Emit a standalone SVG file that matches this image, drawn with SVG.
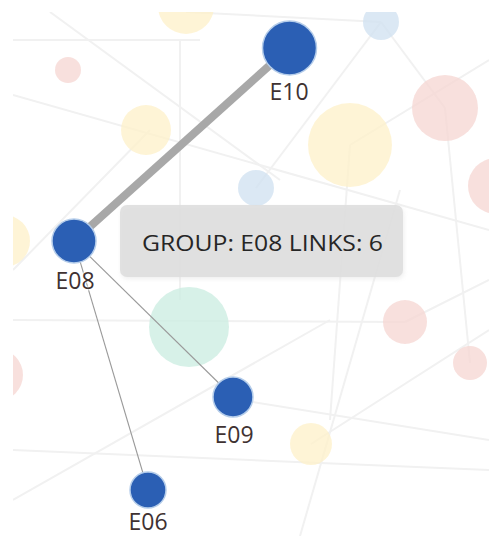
<svg xmlns="http://www.w3.org/2000/svg" width="489" height="536" viewBox="0 0 489 536">
<defs>
<clipPath id="area"><rect x="13" y="12" width="476" height="524"/></clipPath>
<filter id="sh" x="-10%" y="-20%" width="120%" height="150%"><feGaussianBlur stdDeviation="2"/></filter>
<style>
.bgl{stroke:#f1f1f1;stroke-width:2;fill:none}
.y{fill:#fdf0c8;opacity:.75}
.p{fill:#f6d6d2;opacity:.75}
.b{fill:#cfe0f0;opacity:.75}
.g{fill:#cdeee2;opacity:.8}
.node{fill:#2b5fb4;stroke:#b5cdea;stroke-width:1.5}
.lbl{font-family:"Open Sans","Noto Sans",sans-serif;font-size:23px;fill:#3f3232;text-anchor:middle;paint-order:stroke;stroke:#fff;stroke-width:3;stroke-opacity:.6}
.thin{stroke:#9a9a9a;stroke-width:1.1;fill:none}
.thick{stroke:#a8a8a8;stroke-width:8;fill:none}
</style>
</defs>
<rect width="489" height="536" fill="#fff"/>
<g id="background" clip-path="url(#area)">
<g>
<line class="bgl" x1="50" y1="12" x2="280" y2="180"/>
<line class="bgl" x1="13" y1="95" x2="489" y2="230"/>
<line class="bgl" x1="13" y1="40" x2="200" y2="40"/>
<line class="bgl" x1="186" y1="12" x2="381" y2="22"/>
<line class="bgl" x1="381" y1="22" x2="445" y2="108"/>
<line class="bgl" x1="350" y1="145" x2="489" y2="60"/>
<line class="bgl" x1="381" y1="22" x2="256" y2="188"/>
<line class="bgl" x1="180" y1="40" x2="180" y2="300"/>
<line class="bgl" x1="13" y1="320" x2="405" y2="322"/>
<line class="bgl" x1="13" y1="500" x2="330" y2="320"/>
<line class="bgl" x1="13" y1="450" x2="489" y2="470"/>
<line class="bgl" x1="311" y1="444" x2="489" y2="330"/>
<line class="bgl" x1="240" y1="400" x2="489" y2="440"/>
<line class="bgl" x1="300" y1="536" x2="400" y2="190"/>
<line class="bgl" x1="405" y1="322" x2="489" y2="280"/>
<line class="bgl" x1="13" y1="270" x2="150" y2="130"/>
<line class="bgl" x1="330" y1="420" x2="350" y2="145"/>
<line class="bgl" x1="445" y1="108" x2="470" y2="363"/>
</g>
<circle class="y" cx="186" cy="6" r="28"/>
<circle class="p" cx="68" cy="70" r="13"/>
<circle class="y" cx="146" cy="130" r="25"/>
<circle class="b" cx="381" cy="22" r="18"/>
<circle class="p" cx="445" cy="108" r="33"/>
<circle class="y" cx="350" cy="145" r="42"/>
<circle class="p" cx="496" cy="186" r="28"/>
<circle class="b" cx="256" cy="188" r="18"/>
<circle class="y" cx="4" cy="241" r="26"/>
<circle class="g" cx="189" cy="327" r="40"/>
<circle class="p" cx="-3" cy="375" r="26"/>
<circle class="p" cx="405" cy="322" r="22"/>
<circle class="p" cx="470" cy="363" r="17"/>
<circle class="y" cx="311" cy="444" r="21"/>
</g>
<g id="connectors">
<line class="thick" x1="74" y1="241" x2="289" y2="48"/>
<line class="thin" x1="74" y1="241" x2="233" y2="397"/>
<line class="thin" x1="74" y1="241" x2="148" y2="490"/>
</g>
<g id="E10"><circle class="node" cx="289.5" cy="48" r="27"/><text class="lbl" x="289" y="100">E10</text></g>
<g id="E08"><circle class="node" cx="74" cy="241" r="22"/><text class="lbl" x="75" y="289">E08</text></g>
<g id="E09"><circle class="node" cx="233" cy="397" r="20"/><text class="lbl" x="234" y="443">E09</text></g>
<g id="E06"><circle class="node" cx="148" cy="490" r="18"/><text class="lbl" x="148" y="530">E06</text></g>
<g id="tooltip">
<rect x="121" y="207" width="283" height="72" rx="7" fill="#ccc" opacity=".3" filter="url(#sh)"/>
<rect x="120" y="205" width="283" height="72" rx="7" fill="#dedede" opacity=".92"/>
<text x="142" y="251" font-family="'Open Sans','Noto Sans',sans-serif" font-size="22" font-weight="500" fill="#262626" textLength="241" lengthAdjust="spacingAndGlyphs">GROUP: E08 LINKS: 6</text>
</g>
</svg>
